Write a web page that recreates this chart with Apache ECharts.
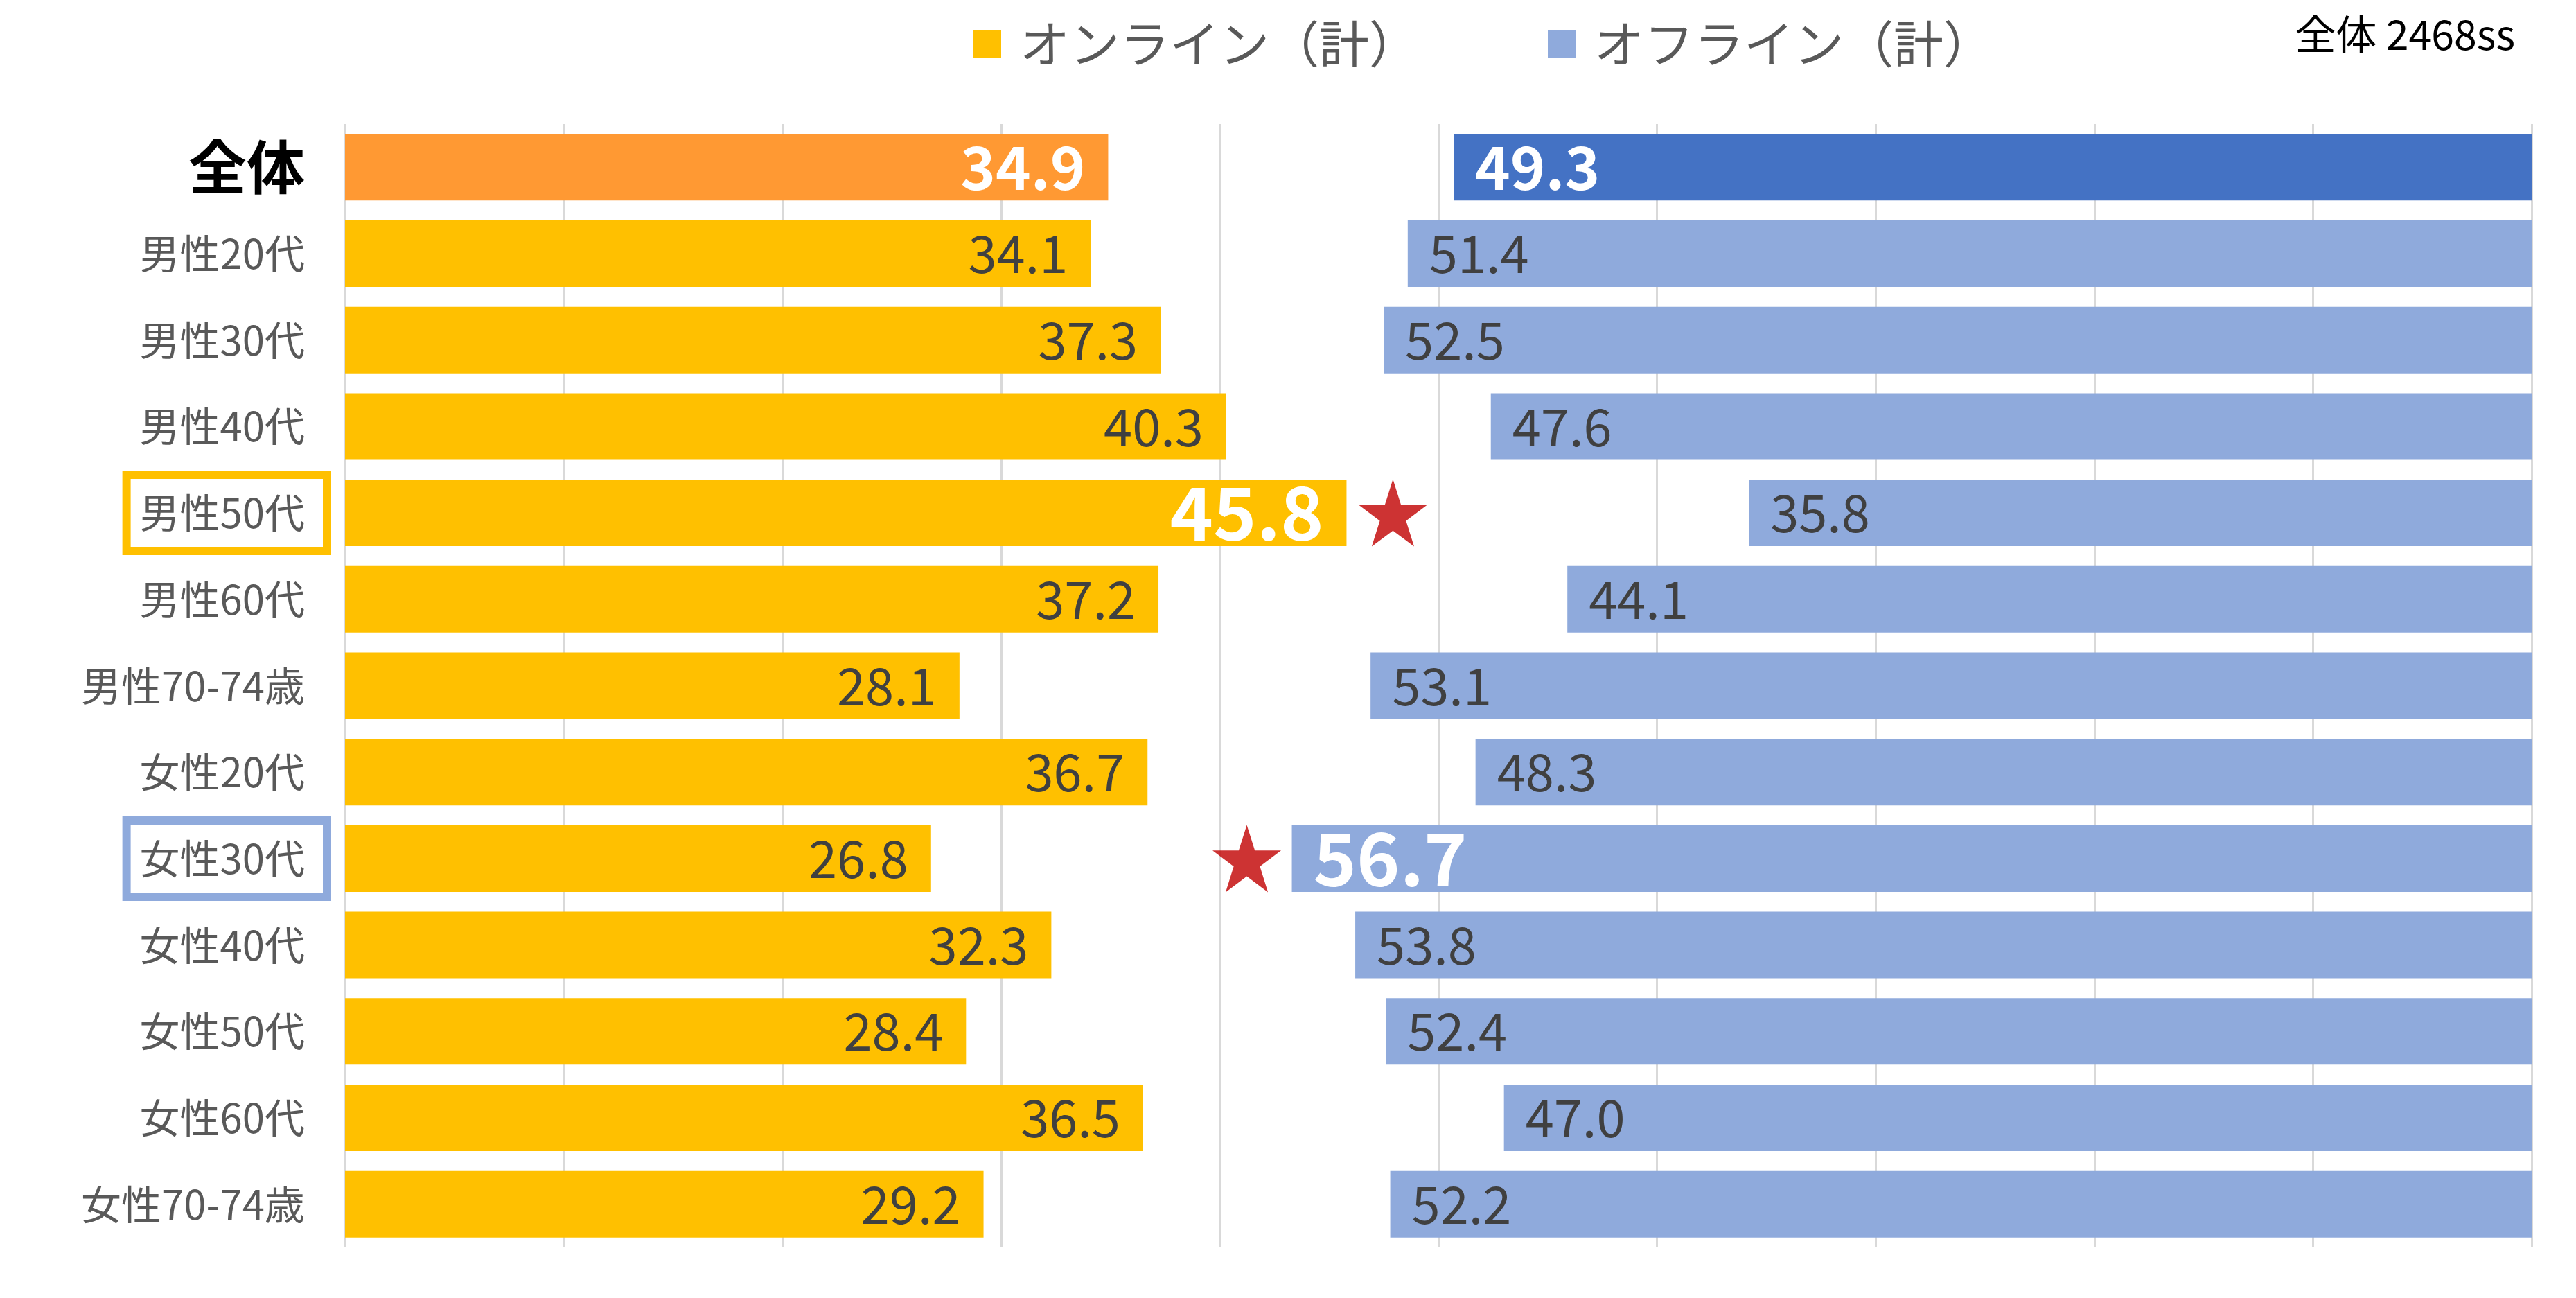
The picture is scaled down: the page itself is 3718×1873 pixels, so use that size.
<!DOCTYPE html>
<html>
<head>
<meta charset="utf-8">
<script src="https://cdn.jsdelivr.net/npm/echarts@6/dist/echarts.min.js"></script>
<style>
html,body{margin:0;padding:0;background:#fff;}
#chart{width:3718px;height:1873px;}
</style>
</head>
<body>
<div id="chart"></div>
<script>
const categories = ['全体','男性20代','男性30代','男性40代','男性50代','男性60代','男性70-74歳','女性20代','女性30代','女性40代','女性50代','女性60代','女性70-74歳'];
const onlineValues  = [34.9,34.1,37.3,40.3,45.8,37.2,28.1,36.7,26.8,32.3,28.4,36.5,29.2];
const offlineValues = [49.3,51.4,52.5,47.6,35.8,44.1,53.1,48.3,56.7,53.8,52.4,47.0,52.2];
const seriesNames = ['オンライン（計）','オフライン（計）'];
const noteText = '全体 2468ss';
const onlineHighlight = '男性50代';
const offlineHighlight = '女性30代';
const axisTicks = [0,10,20,30,40,50,60,70,80,90,100];

const FONT = '"Noto Sans CJK JP", "Noto Sans", sans-serif';
const cOnline = '#FFC000', cOnlineAll = '#FF9933';
const cOffline = '#8FAADC', cOfflineAll = '#4472C4';
const labelDark = '#404040';

const iOn = categories.indexOf(onlineHighlight);
const iOff = categories.indexOf(offlineHighlight);

function buildData(values, allColor, hiIdx) {
  return values.map((v, i) => {
    const item = { value: v };
    if (i === 0) {
      item.itemStyle = { color: allColor };
      item.label = { color: '#fff', fontWeight: 'bold', fontSize: 86 };
    } else if (i === hiIdx) {
      item.label = { color: '#fff', fontWeight: 'bold', fontSize: 106 };
    }
    return item;
  });
}

const chart = echarts.init(document.getElementById('chart'));
const starPath = 'path://M50 0 L61.2 34.5 L97.6 34.5 L68.2 55.9 L79.4 90.5 L50 69.1 L20.6 90.5 L31.8 55.9 L2.4 34.5 L38.8 34.5 Z';

chart.setOption({
  backgroundColor: '#fff',
  animation: false,
  textStyle: { fontFamily: FONT },
  graphic: [{
    type: 'text', right: 88, top: 20,
    style: { text: noteText, fontSize: 59, fill: '#000', fontFamily: FONT }
  }],
  legend: {
    data: seriesNames,
    left: 1400, top: 22,
    itemWidth: 40, itemHeight: 40, itemGap: 186,
    icon: 'rect',
    textStyle: { fontSize: 72, color: '#595959', fontFamily: FONT, padding: [0,0,0,22] }
  },
  grid: { left: 498, right: 64, top: 179, bottom: 73, containLabel: false },
  xAxis: [{
    type: 'value', min: axisTicks[0], max: axisTicks[axisTicks.length-1], interval: axisTicks[1]-axisTicks[0],
    axisLabel: { show: false }, axisTick: { show: false }, axisLine: { show: false },
    splitLine: { show: true, lineStyle: { color: '#D9D9D9', width: 3 } }
  }, {
    type: 'value', inverse: true, min: axisTicks[0], max: axisTicks[axisTicks.length-1], interval: axisTicks[1]-axisTicks[0],
    axisLabel: { show: false }, axisTick: { show: false }, axisLine: { show: false },
    splitLine: { show: false }
  }],
  yAxis: {
    type: 'category', data: categories, inverse: true,
    axisLine: { show: false }, axisTick: { show: false },
    axisLabel: {
      margin: 32,
      formatter: function (v) {
        if (v === categories[0]) return '{all|' + v + '}';
        if (v === onlineHighlight) return '{by|' + v + '}';
        if (v === offlineHighlight) return '{bb|' + v + '}';
        return '{n|' + v + '}';
      },
      rich: {
        n: { fontSize: 58, color: '#595959', fontFamily: FONT, padding: [0, 26, 0, 0] },
        all: { fontSize: 84, color: '#000', fontWeight: 'bold', fontFamily: FONT, padding: [0, 26, 0, 0] },
        by: { fontSize: 58, color: '#595959', fontFamily: FONT, lineHeight: 64, padding: [20, 26, 20, 13], borderColor: cOnline, borderWidth: 12, backgroundColor: '#fff' },
        bb: { fontSize: 58, color: '#595959', fontFamily: FONT, lineHeight: 64, padding: [20, 26, 20, 13], borderColor: cOffline, borderWidth: 12, backgroundColor: '#fff' }
      }
    }
  },
  series: [{
    name: seriesNames[0], type: 'bar', xAxisIndex: 0, yAxisIndex: 0,
    barCategoryGap: '23%', barGap: '-100%',
    itemStyle: { color: cOnline },
    label: { show: true, position: 'insideRight', distance: 33, fontSize: 74, color: labelDark, fontFamily: FONT,
      formatter: p => p.value.toFixed(1) },
    data: buildData(onlineValues, cOnlineAll, iOn)
  }, {
    name: seriesNames[1], type: 'bar', xAxisIndex: 1, yAxisIndex: 0,
    barCategoryGap: '23%', barGap: '-100%',
    itemStyle: { color: cOffline },
    label: { show: true, position: 'insideLeft', distance: 31, fontSize: 74, color: labelDark, fontFamily: FONT,
      formatter: p => p.value.toFixed(1) },
    data: buildData(offlineValues, cOfflineAll, iOff)
  }, {
    name: 'star1', type: 'scatter', xAxisIndex: 0, yAxisIndex: 0,
    symbol: starPath, symbolSize: [99, 97], symbolOffset: [67, 0],
    itemStyle: { color: '#C00000' }, z: 5,
    data: [[onlineValues[iOn], onlineHighlight]]
  }, {
    name: 'star2', type: 'scatter', xAxisIndex: 1, yAxisIndex: 0,
    symbol: starPath, symbolSize: [99, 97], symbolOffset: [-65, 0],
    itemStyle: { color: '#C00000' }, z: 5,
    data: [[offlineValues[iOff], offlineHighlight]]
  }]
});
</script>
</body>
</html>
